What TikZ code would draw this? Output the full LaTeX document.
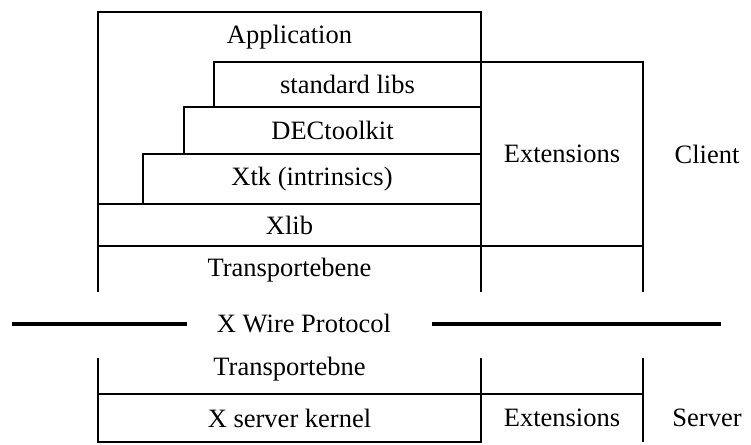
\documentclass[tikz,border=0pt]{standalone}
\usepackage{fontspec}
\setmainfont{Liberation Serif}
\usetikzlibrary{positioning}
\tikzset{
  layer/.style={rectangle, draw=black, line width=1.9pt, inner sep=0pt,
                outer sep=0pt, anchor=north west,
                font=\fontsize{26.5}{30}\selectfont},
  tag/.style={inner sep=0pt, font=\fontsize{26.5}{30}\selectfont},
  rule/.style={draw=black, line width=1.9pt},
  wire/.style={draw=black, line width=4.5pt}
}
\begin{document}
\begin{tikzpicture}[x=1pt, y=-1pt]
\useasboundingbox (0,0) rectangle (751,444);
% client side
\node (app) [layer, minimum width=383pt, minimum height=192pt,
  label={[tag, anchor=center, yshift=-25pt]north:Application}] at (98,12) {};
\node (stdlib) [layer, minimum width=267pt, minimum height=45pt] at (214,62) {standard libs};
\node (dectk) [layer, minimum width=297pt, minimum height=47pt] at (184,107) {DECtoolkit};
\node (xtk) [layer, minimum width=338pt, minimum height=50pt] at (143,154) {Xtk (intrinsics)};
\node (xlib) [layer, minimum width=383pt, minimum height=42pt] at (98,204) {Xlib};
\node (cext) [layer, minimum width=162pt, minimum height=184pt] at (481,62) {Extensions};
\node (client) [tag] at (707,154) {Client};
\draw[rule] (xlib.south west) -- ++(0,46);
\draw[rule] (xlib.south east) -- ++(0,46);
\draw[rule] (cext.south east) -- ++(0,46);
\node (ctrans) [tag] at (289.5,270) {Transportebene};
% wire
\node (wire) [tag] at (304,324) {X Wire Protocol};
\coordinate (wl) at (12,324);
\coordinate (wr) at (721,324);
\draw[wire] (wl) -- (wl -| 187,0);
\draw[wire] (wr -| 432,0) -- (wr);
% server side
\node (strans) [tag] at (289.5,369) {Transportebne};
\node (kernel) [layer, minimum width=383pt, minimum height=48pt] at (98,394) {X server kernel};
\node (sext) [tag] at (562,418) {Extensions};
\node (server) [tag] at (707,418) {Server};
\draw[rule] (kernel.north west) -- ++(0,-36);
\draw[rule] (kernel.north east) -- ++(0,-36);
\draw[rule] (kernel.north east) -- ++(162,0) coordinate (sne) -- ++(0,-36);
\draw[rule] (sne) -- ++(0,48);
\end{tikzpicture}
\end{document}
